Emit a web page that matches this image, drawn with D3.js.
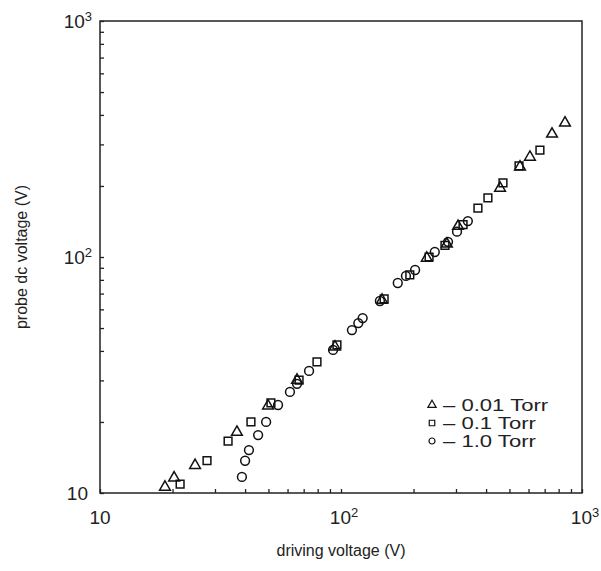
<!DOCTYPE html>
<html>
<head>
<meta charset="utf-8">
<script src="https://cdn.jsdelivr.net/npm/d3@7"></script>
<style>
  body { margin: 0; background: #fff; }
  text { font-family: "Liberation Sans", Arial, sans-serif; fill: #222; }
</style>
</head>
<body>
<div id="chart-area"></div>
<script>
// driving voltage (V), probe dc voltage (V)
var tri_x = [18.6, 20.3, 24.8, 37.0, 49.8, 65.7, 94.4, 148, 227, 275, 306, 457, 553, 608, 751, 850];
var tri_y = [10.6, 11.6, 13.1, 18.1, 23.4, 30.1, 41.6, 65.7, 99, 113.5, 135, 196, 241, 265, 332, 370];
var sq_x = [21.5, 27.8, 34.0, 42.3, 51.2, 67.0, 79.5, 96.2, 151, 193, 232, 270, 321, 370, 407, 470, 548, 669];
var sq_y = [10.9, 13.7, 16.6, 20.0, 24.1, 30.1, 35.9, 42.4, 66.4, 83.9, 100, 112, 137, 161, 178, 206, 243, 284];
var circ_x = [38.8, 40.0, 41.5, 45.3, 48.9, 54.8, 61.4, 65.7, 73.7, 92.7, 111, 118, 123, 145, 172, 186, 203, 245, 278, 303, 336];
var circ_y = [11.7, 13.7, 15.2, 17.6, 20.0, 23.6, 26.8, 29.0, 32.9, 40.4, 49.0, 52.5, 55.1, 65.1, 77.6, 83.1, 88.1, 105, 116, 128, 142];
var legendLabels = ["\u2013 0.01 Torr", "\u2013 0.1 Torr", "\u2013 1.0 Torr"];
var decades = [10, 100, 1000];

var W = 601, H = 571;
var mLeft = 100, mRight = 582, mTop = 21, mBottom = 493;

var svg = d3.select("#chart-area").append("svg")
    .attr("width", W)
    .attr("height", H);

var x = d3.scaleLog().domain([10, 1000]).range([mLeft, mRight]);
var y = d3.scaleLog().domain([10, 1000]).range([mBottom, mTop]);

// minor ticks 2..9 plus majors
var allTicks = x.ticks();

svg.append("g")
    .attr("transform", "translate(0," + mBottom + ")")
    .call(d3.axisBottom(x).tickValues(allTicks).tickSize(-4).tickFormat(""))
    .call(g => g.select(".domain").remove())
    .selectAll("line").attr("stroke", "#222").attr("stroke-width", 1.3);

svg.append("g")
    .attr("transform", "translate(" + mLeft + ",0)")
    .call(d3.axisLeft(y).tickValues(allTicks).tickSize(-4).tickFormat(""))
    .call(g => g.select(".domain").remove())
    .selectAll("line").attr("stroke", "#222").attr("stroke-width", 1.3);

// frame
svg.append("rect")
    .attr("x", mLeft).attr("y", mTop)
    .attr("width", mRight - mLeft).attr("height", mBottom - mTop)
    .attr("fill", "none").attr("stroke", "#222").attr("stroke-width", 1.5);

// tick labels
function powLabel(sel, d) {
  sel.append("tspan").text("10");
  if (d > 10) {
    sel.append("tspan").attr("dy", -7).attr("font-size", 13).text(d === 100 ? "2" : "3");
  }
}
decades.forEach(function(d) {
  var t = svg.append("text")
      .attr("x", x(d) + (d > 10 ? 3 : 0))
      .attr("y", mBottom + 31)
      .attr("text-anchor", "middle")
      .attr("font-size", 19);
  powLabel(t, d);
  var t2 = svg.append("text")
      .attr("x", d > 10 ? mLeft - 8 : mLeft - 12)
      .attr("y", y(d) + 7)
      .attr("text-anchor", "end")
      .attr("font-size", 19);
  powLabel(t2, d);
});

// axis titles
svg.append("text")
    .attr("x", (mLeft + mRight) / 2)
    .attr("y", 556)
    .attr("text-anchor", "middle")
    .attr("font-size", 16)
    .text("driving voltage (V)");
svg.append("text")
    .attr("transform", "translate(27," + ((mTop + mBottom) / 2) + ") rotate(-90)")
    .attr("text-anchor", "middle")
    .attr("font-size", 16)
    .text("probe dc voltage (V)");

// markers
var triSym = d3.symbol().type(d3.symbolTriangle).size(50);
var sqSym = d3.symbol().type(d3.symbolSquare).size(60);

svg.append("g").selectAll("path")
  .data(d3.zip(sq_x, sq_y))
  .enter().append("path")
    .attr("d", sqSym)
    .attr("transform", d => "translate(" + x(d[0]) + "," + y(d[1]) + ")")
    .attr("fill", "none").attr("stroke", "#111").attr("stroke-width", 1.5);

svg.append("g").selectAll("circle")
  .data(d3.zip(circ_x, circ_y))
  .enter().append("circle")
    .attr("cx", d => x(d[0]))
    .attr("cy", d => y(d[1]))
    .attr("r", 4.4)
    .attr("fill", "none").attr("stroke", "#111").attr("stroke-width", 1.5);

svg.append("g").selectAll("path")
  .data(d3.zip(tri_x, tri_y))
  .enter().append("path")
    .attr("d", triSym)
    .attr("transform", d => "translate(" + x(d[0]) + "," + y(d[1]) + ")")
    .attr("fill", "none").attr("stroke", "#111").attr("stroke-width", 1.5);

// legend
var lg = svg.append("g").attr("transform", "translate(432,405)");
var legSyms = [d3.symbol().type(d3.symbolTriangle).size(30), d3.symbol().type(d3.symbolSquare).size(30), null];
legendLabels.forEach(function(lab, i) {
  var row = lg.append("g").attr("transform", "translate(0," + (i * 18) + ")");
  if (legSyms[i]) {
    row.append("path").attr("d", legSyms[i])
      .attr("fill", "none").attr("stroke", "#111").attr("stroke-width", 1.2);
  } else {
    row.append("circle").attr("r", 3)
      .attr("fill", "none").attr("stroke", "#111").attr("stroke-width", 1.2);
  }
  row.append("text")
    .attr("transform", "translate(11,6) scale(1.3,1)")
    .attr("font-size", 17)
    .text(lab);
});
</script>
</body>
</html>
